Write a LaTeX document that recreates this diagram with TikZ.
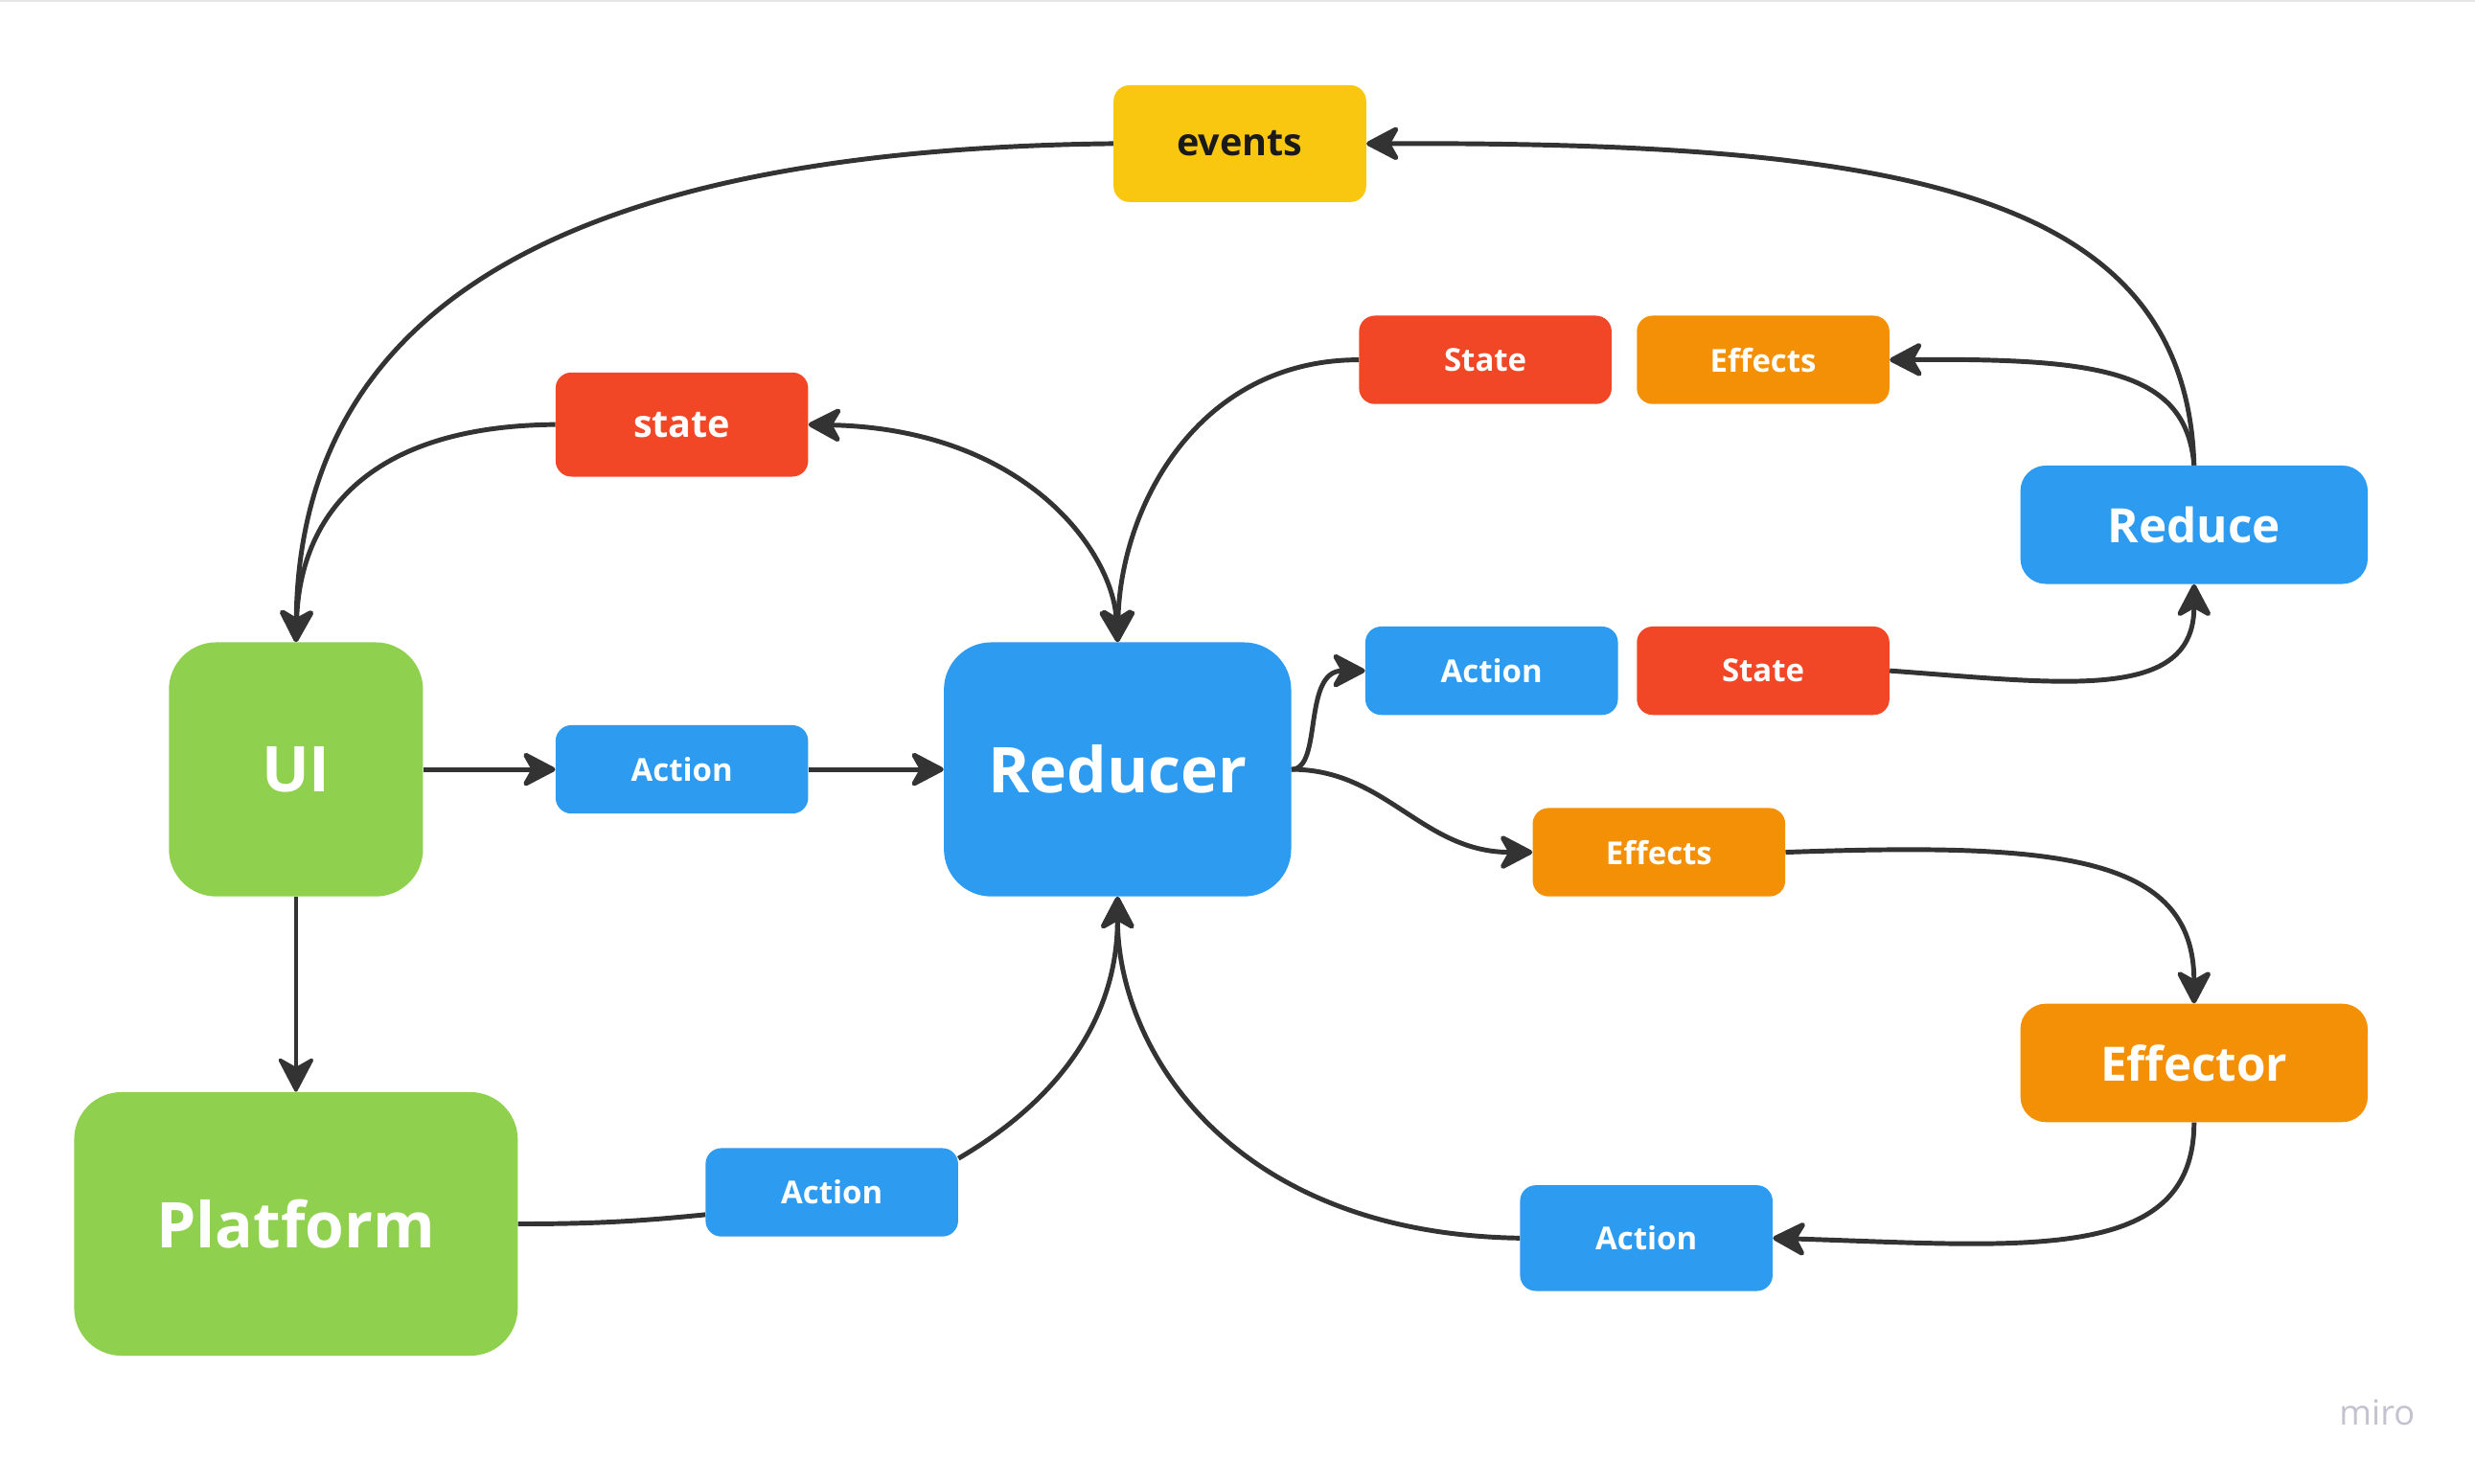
\documentclass[tikz,border=0pt]{standalone}
\usepackage{fontspec}
\setmainfont{Open Sans}
\usetikzlibrary{arrows.meta}
\definecolor{cblue}{HTML}{2D9BF0}
\definecolor{cred}{HTML}{F24726}
\definecolor{corange}{HTML}{F39006}
\definecolor{cgreen}{HTML}{8FD14F}
\definecolor{cyellow}{HTML}{FAC710}
\definecolor{cdark}{HTML}{1A1A1A}
\definecolor{cline}{HTML}{333333}
\definecolor{cmiro}{HTML}{C3C3CF}
\tikzset{
  box/.style={rounded corners=10pt, text=white, inner sep=0pt,
    font=\bfseries\fontsize{20}{24}\selectfont,
    minimum width=160pt, minimum height=56pt},
  boxl/.style={box, font=\bfseries\fontsize{24}{28}\selectfont},
  midbox/.style={box, rounded corners=16pt, minimum width=220pt, minimum height=75pt,
    font=\bfseries\fontsize{30}{36}\selectfont},
  bigbox/.style={box, rounded corners=30pt, minimum width=161pt, minimum height=161pt,
    font=\bfseries\fontsize{40}{48}\selectfont},
  conn/.style={draw=cline, line width=3pt, -{Stealth[length=24pt,width=25pt,inset=7pt,round]}},
  plain/.style={draw=cline, line width=3pt},
  both/.style={draw=cline, line width=3pt,
    {Stealth[length=24pt,width=25pt,inset=7pt,round]}-{Stealth[length=24pt,width=25pt,inset=7pt,round]}},
}
\begin{document}
\begin{tikzpicture}[x=1pt,y=-1pt]
\useasboundingbox[fill=white] (0,0) rectangle (1568,940);
\draw[black!10, line width=1pt] (0,0.5) -- (1568,0.5);

% nodes
\node[boxl, fill=cyellow, text=cdark, minimum height=74pt] (events) at (785.5,91) {events};
\node[boxl, fill=cred, minimum height=66pt] (state) at (432,269) {state};
\node[box, fill=cred] (stateT) at (941,228) {State};
\node[box, fill=corange] (effT) at (1117,228) {Effects};
\node[midbox, fill=cblue] (reduce) at (1390,332.5) {Reduce};
\node[bigbox, fill=cgreen] (ui) at (187.5,487.5) {UI};
\node[box, fill=cblue] (act1) at (432,487.5) {Action};
\node[bigbox, fill=cblue, minimum width=220pt] (reducer) at (708,487.5) {Reducer};
\node[box, fill=cblue] (act2) at (945,425) {Action};
\node[box, fill=cred] (stateM) at (1117,425) {State};
\node[box, fill=corange] (effM) at (1051,540) {Effects};
\node[midbox, fill=corange] (effector) at (1390,673.5) {Effector};
\node[bigbox, fill=cgreen, minimum width=281pt, minimum height=167pt] (platform) at (187.5,775.5) {Platform};
\node[box, fill=cblue] (act3) at (527,755.5) {Action};
\node[box, fill=cblue, minimum height=67pt] (act4) at (1043,784.5) {Action};
\node[text=cmiro, font=\fontsize{22}{26}\selectfont] (miro) at (1506,895) {miro};

% connectors
\draw[conn] (events.west) .. controls +(-356,4) and +(2.5,-207) .. (ui.north);
\draw[conn] (state.west) .. controls +(-122,1) and +(2.5,-77) .. (ui.north);
\draw[both] (state.east) .. controls +(138,3) and +(-3,-57) .. (reducer.north);
\draw[conn] (stateT.west) .. controls +(-101,0) and +(2,-87) .. (reducer.north);
\draw[conn] (reduce.north) .. controls +(-5,-175) and +(335,-1) .. (events.east);
\draw[conn] (reduce.north) .. controls +(-5,-60) and +(133,-1) .. (effT.east);
\draw[conn] (reducer.east) .. controls +(20,0) and +(-40,0) .. (act2.west);
\draw[conn] (stateM.east) .. controls +(110,8) and +(0,75) .. (reduce.south);
\draw[conn] (reducer.east) .. controls +(60,0) and +(-70,0) .. (effM.west);
\draw[conn] (effM.east) .. controls +(170,-6) and +(0,-95) .. (effector.north);
\draw[conn] (effector.south) .. controls +(0,90) and +(160,5) .. (act4.east);
\draw[conn] (act4.west) .. controls +(-185,-3) and +(0,95) .. (reducer.south);
\draw[plain] (platform.east) .. controls +(50,0) and +(-40,4) .. (act3.190);
\draw[conn] (act3.15) .. controls +(60,-35) and +(0,80) .. (reducer.south);
\draw[conn] (ui.east) -- (act1.west);
\draw[conn] (act1.east) -- (reducer.west);
\draw[conn, line width=2.2pt] (ui.south) -- (platform.north);
\end{tikzpicture}
\end{document}
